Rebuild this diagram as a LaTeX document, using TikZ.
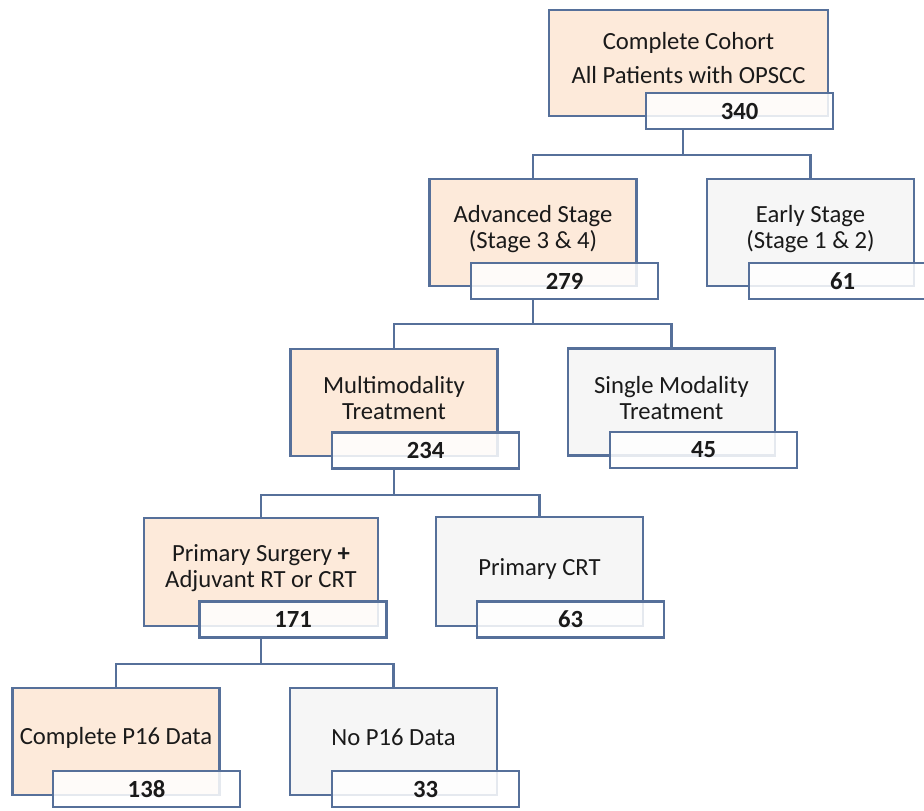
\documentclass[tikz,border=0pt]{standalone}
\usepackage{fontspec}
\setmainfont{Carlito}
\definecolor{bc}{HTML}{56709A}
\definecolor{peach}{HTML}{FDEADA}
\definecolor{grayfill}{HTML}{F6F6F6}
\definecolor{txt}{HTML}{1A1A1A}
\begin{document}
\begin{tikzpicture}[x=0.75pt,y=-0.75pt,
  mainbox/.style={draw=bc, line width=1.6pt, rectangle, inner sep=0pt,
    minimum width=207*0.75pt, minimum height=107*0.75pt},
  hot/.style={mainbox, fill=peach},
  cold/.style={mainbox, fill=grayfill},
  numbox/.style={draw=bc, line width=1.6pt, rectangle, inner sep=0pt,
    fill=white, fill opacity=0.85, text opacity=1,
    minimum width=187*0.75pt, minimum height=36*0.75pt,
    font=\fontsize{18.5}{19.5}\selectfont\bfseries, text=txt},
  lbl/.style={align=center, inner sep=0pt, text=txt,
    font=\fontsize{18.5}{19.5}\selectfont},
  conn/.style={draw=bc, line width=1.6pt}]
\useasboundingbox (0,0) rectangle (924,810);
\clip (0,0) rectangle (924,810);

% level 1
\node[hot, minimum width=279*0.75pt, minimum height=106*0.75pt] (c1) at (688.5,63) {};
\node[lbl, font=\fontsize{18.5}{25.5}\selectfont] (t1) at (688.5,58) {Complete Cohort\\All Patients with OPSCC};
\node[numbox] (n1) at (739.5,111) {340};

% level 2
\node[hot] (adv) at (533,232.5) {};
\node[lbl] (t2) at (533,229) {Advanced Stage\\(Stage 3 \& 4)};
\node[numbox] (n2) at (564.5,281) {279};

\node[cold] (early) at (810.5,232.5) {};
\node[lbl] (t3) at (810.5,229) {Early Stage\\(Stage 1 \& 2)};
\node[numbox] (n3) at (842.5,281) {61};

% level 3
\node[hot] (multi) at (394,402.5) {};
\node[lbl] (t4) at (394,398) {Multimodality\\Treatment};
\node[numbox] (n4) at (425.5,450.5) {234};

\node[cold] (single) at (671.5,402) {};
\node[lbl] (t5) at (671.5,398) {Single Modality\\Treatment};
\node[numbox] (n5) at (703.5,450) {45};

% level 4
\node[hot, minimum width=234*0.75pt, minimum height=108*0.75pt] (surg) at (261,572) {};
\node[lbl] (t6) at (261,568) {Primary Surgery \textbf{+}\\Adjuvant RT or CRT};
\node[numbox] (n6) at (293,619.5) {171};

\node[cold, minimum height=109*0.75pt] (crt) at (539.5,571.5) {};
\node[lbl] (t7) at (539.5,568.5) {Primary CRT};
\node[numbox] (n7) at (570.5,619.5) {63};

% level 5
\node[hot] (p16) at (116,741.5) {};
\node[lbl] (t8) at (116,737.5) {Complete P16 Data};
\node[numbox] (n8) at (146.5,789) {138};

\node[cold] (nop16) at (393.5,741.5) {};
\node[lbl] (t9) at (393.5,737.5) {No P16 Data};
\node[numbox] (n9) at (425.5,789) {33};

% connectors
\coordinate (d1) at (683,129);
\draw[conn] (d1) -- ++(0,26) -| (adv.north);
\draw[conn] (d1) ++(0,26) -| (early.north);

\draw[conn] (adv.center |- n2.south) -- ++(0,24) -| (multi.north);
\draw[conn] (adv.center |- n2.south) ++(0,24) -| (single.north);

\draw[conn] (multi.center |- n4.south) -- ++(0,25) -| (surg.north);
\draw[conn] (multi.center |- n4.south) ++(0,25) -| (crt.north);

\draw[conn] (surg.center |- n6.south) -- ++(0,25) -| (p16.north);
\draw[conn] (surg.center |- n6.south) ++(0,25) -| (nop16.north);
\end{tikzpicture}
\end{document}
